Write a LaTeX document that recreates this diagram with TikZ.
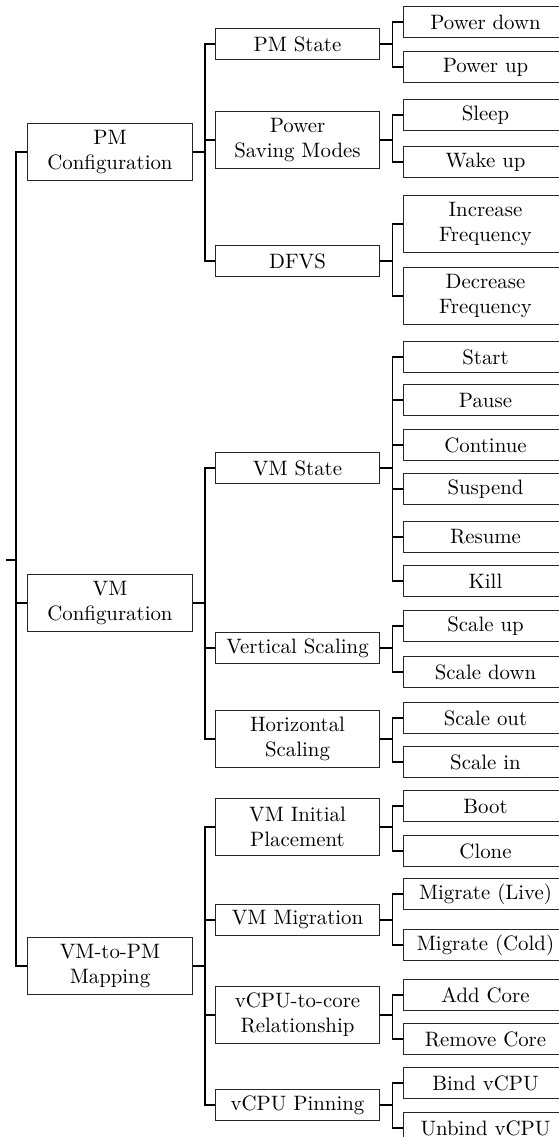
\documentclass[tikz,border=0pt]{standalone}
\usepackage{tikz}
\usetikzlibrary{positioning}

\begin{document}
\begin{tikzpicture}[x=0.48pt,y=-0.48pt]
	\tikzset{
		box/.style={draw=black!85, line width=0.5pt, fill=white,
			minimum width=79pt, minimum height=14.6pt, inner sep=1pt, align=center},
		tall/.style={box, minimum height=27.4pt},
		e/.style={draw=black, line width=0.75pt}
	}
	\useasboundingbox (0,0) rectangle (558,1137);
	
	% level 1
	\node[tall] (pmc) at (110, 152) {PM\\Configuration};
	\node[tall] (vmc) at (110, 603) {VM\\Configuration};
	\node[tall] (map) at (110, 966) {VM-to-PM\\Mapping};
	
	% level 2
	\node[box]  (pmstate)  at (297.5, 44)   {PM State};
	\node[tall] (psm)      at (297.5, 140)  {Power\\Saving Modes};
	\node[box]  (dfvs)     at (297.5, 261)  {DFVS};
	\node[box]  (vmstate)  at (297.5, 468)  {VM State};
	\node[box]  (vscale)   at (297.5, 648)  {Vertical Scaling};
	\node[tall] (hscale)   at (297.5, 739)  {Horizontal\\Scaling};
	\node[tall] (vminit)   at (297.5, 827)  {VM Initial\\Placement};
	\node[box]  (vmmig)    at (297.5, 920)  {VM Migration};
	\node[tall] (vcpucore) at (297.5, 1015) {vCPU-to-core\\Relationship};
	\node[box]  (vcpupin)  at (297.5, 1105) {vCPU Pinning};
	
	% level 3
	\node[box]  (pdown)  at (485.5, 22)   {Power down};
	\node[box]  (pup)    at (485.5, 67)   {Power up};
	\node[box]  (sleep)  at (485.5, 115)  {Sleep};
	\node[box]  (wake)   at (485.5, 162)  {Wake up};
	\node[tall] (incf)   at (485.5, 224)  {Increase\\Frequency};
	\node[tall] (decf)   at (485.5, 296)  {Decrease\\Frequency};
	\node[box]  (start)  at (485.5, 357)  {Start};
	\node[box]  (pause)  at (485.5, 400)  {Pause};
	\node[box]  (cont)   at (485.5, 445)  {Continue};
	\node[box]  (susp)   at (485.5, 489)  {Suspend};
	\node[box]  (resume) at (485.5, 537)  {Resume};
	\node[box]  (kill)   at (485.5, 581)  {Kill};
	\node[box]  (sup)    at (485.5, 626)  {Scale up};
	\node[box]  (sdown)  at (485.5, 672)  {Scale down};
	\node[box]  (sout)   at (485.5, 718)  {Scale out};
	\node[box]  (sin)    at (485.5, 762)  {Scale in};
	\node[box]  (boot)   at (485.5, 806)  {Boot};
	\node[box]  (clone)  at (485.5, 851)  {Clone};
	\node[box]  (mlive)  at (485.5, 894)  {Migrate (Live)};
	\node[box]  (mcold)  at (485.5, 945)  {Migrate (Cold)};
	\node[box]  (addc)   at (485.5, 995)  {Add Core};
	\node[box]  (remc)   at (485.5, 1039) {Remove Core};
	\node[box]  (bind)   at (485.5, 1083) {Bind vCPU};
	\node[box]  (unbind) at (485.5, 1128) {Unbind vCPU};
	
	% root fork
	\coordinate (root) at (6, 560);
	\draw[e] (root) -- ++(10,0) |- (pmc.west);
	\draw[e] (root) -- ++(10,0) |- (vmc.west);
	\draw[e] (root) -- ++(10,0) |- (map.west);
	
	% level 1 -> level 2
	\draw[e] (pmc.east) -- ++(12,0) |- (pmstate.west);
	\draw[e] (pmc.east) -- ++(12,0) |- (psm.west);
	\draw[e] (pmc.east) -- ++(12,0) |- (dfvs.west);
	\draw[e] (vmc.east) -- ++(12,0) |- (vmstate.west);
	\draw[e] (vmc.east) -- ++(12,0) |- (vscale.west);
	\draw[e] (vmc.east) -- ++(12,0) |- (hscale.west);
	\draw[e] (map.east) -- ++(12,0) |- (vminit.west);
	\draw[e] (map.east) -- ++(12,0) |- (vmmig.west);
	\draw[e] (map.east) -- ++(12,0) |- (vcpucore.west);
	\draw[e] (map.east) -- ++(12,0) |- (vcpupin.west);
	
	% level 2 -> level 3
	\draw[e] (pmstate.east) -- ++(12,0) |- (pdown.west);
	\draw[e] (pmstate.east) -- ++(12,0) |- (pup.west);
	\draw[e] (psm.east) -- ++(12,0) |- (sleep.west);
	\draw[e] (psm.east) -- ++(12,0) |- (wake.west);
	\draw[e] (dfvs.east) -- ++(12,0) |- (incf.west);
	\draw[e] (dfvs.east) -- ++(12,0) |- (decf.west);
	\draw[e] (vmstate.east) -- ++(12,0) |- (start.west);
	\draw[e] (vmstate.east) -- ++(12,0) |- (pause.west);
	\draw[e] (vmstate.east) -- ++(12,0) |- (cont.west);
	\draw[e] (vmstate.east) -- ++(12,0) |- (susp.west);
	\draw[e] (vmstate.east) -- ++(12,0) |- (resume.west);
	\draw[e] (vmstate.east) -- ++(12,0) |- (kill.west);
	\draw[e] (vscale.east) -- ++(12,0) |- (sup.west);
	\draw[e] (vscale.east) -- ++(12,0) |- (sdown.west);
	\draw[e] (hscale.east) -- ++(12,0) |- (sout.west);
	\draw[e] (hscale.east) -- ++(12,0) |- (sin.west);
	\draw[e] (vminit.east) -- ++(12,0) |- (boot.west);
	\draw[e] (vminit.east) -- ++(12,0) |- (clone.west);
	\draw[e] (vmmig.east) -- ++(12,0) |- (mlive.west);
	\draw[e] (vmmig.east) -- ++(12,0) |- (mcold.west);
	\draw[e] (vcpucore.east) -- ++(12,0) |- (addc.west);
	\draw[e] (vcpucore.east) -- ++(12,0) |- (remc.west);
	\draw[e] (vcpupin.east) -- ++(12,0) |- (bind.west);
	\draw[e] (vcpupin.east) -- ++(12,0) |- (unbind.west);
\end{tikzpicture}
\end{document}
